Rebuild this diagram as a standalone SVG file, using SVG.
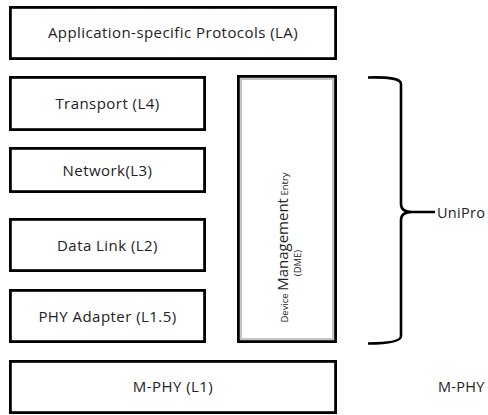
<svg xmlns="http://www.w3.org/2000/svg" width="488" height="415" viewBox="0 0 488 415">
<style>
.box{fill:#fff;stroke:#000;stroke-width:2.8}
.t{font-family:"Open Sans","Noto Sans",sans-serif;font-size:15px;letter-spacing:0.45px;fill:#222;text-anchor:middle}
.s{font-family:"Open Sans","Noto Sans",sans-serif;fill:#222}
.brace{fill:none;stroke:#000;stroke-width:2.6;stroke-linejoin:round}
</style>
<rect width="488" height="415" fill="#fff"/>
<g id="app">
<rect class="box" x="10.4" y="7.4" width="325.2" height="51.2"/>
<text class="t" x="173" y="38">Application-specific Protocols (LA)</text>
</g>
<g id="transport">
<rect class="box" x="10.4" y="77.4" width="194.2" height="52.2"/>
<text class="t" x="107.5" y="109">Transport (L4)</text>
</g>
<g id="network">
<rect class="box" x="10.4" y="148.4" width="194.2" height="43.2"/>
<text class="t" x="107.5" y="175.5">Network(L3)</text>
</g>
<g id="datalink">
<rect class="box" x="10.4" y="219.4" width="194.2" height="51.2"/>
<text class="t" x="107.5" y="250.5">Data Link (L2)</text>
</g>
<g id="phyadapter">
<rect class="box" x="10.4" y="290.4" width="194.2" height="51.2"/>
<text class="t" x="107.5" y="321.5">PHY Adapter (L1.5)</text>
</g>
<g id="dme">
<rect class="box" x="238.4" y="76.4" width="97.2" height="265.2"/>
<rect x="241" y="79" width="92" height="260" fill="none" stroke="#c4c4c4" stroke-width="2"/>
<text class="s" transform="translate(288,247.5) rotate(-90)" text-anchor="middle"><tspan font-size="9.5">Device </tspan><tspan font-size="15">Management</tspan><tspan font-size="9.5"> Entry</tspan></text>
<text class="s" font-size="9.5" transform="translate(301,263) rotate(-90)" text-anchor="middle">(DME)</text>
</g>
<g id="mphy">
<rect class="box" x="10.4" y="361.4" width="325.2" height="51.2"/>
<text class="t" x="173" y="392">M-PHY (L1)</text>
</g>
<g id="unipro">
<text class="s" font-size="14.5" letter-spacing="0.3" x="437" y="218">UniPro</text>
</g>
<g id="mphy-label">
<text class="s" font-size="14.5" letter-spacing="0.3" x="438" y="392">M-PHY</text>
</g>
<g id="connectors">
<path class="brace" d="M368,77.5 Q401,76.5 401,84 L401,204 Q401,212 412,212 L435,212 M412,212 Q401,212 401,220 L401,336 Q401,343.5 368,343.5"/>
</g>
</svg>
